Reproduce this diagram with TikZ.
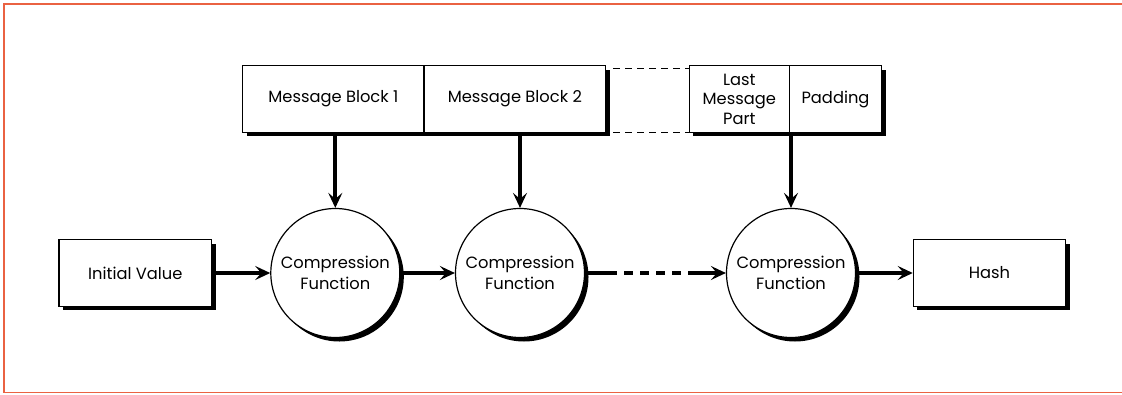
\documentclass[tikz,border=0pt]{standalone}
\usepackage{fontspec}
\setmainfont{Poppins}
\usetikzlibrary{arrows.meta,shadows,calc}

\definecolor{framered}{RGB}{234,98,66}

\begin{document}
\begin{tikzpicture}[x=1pt,y=-1pt,
  font=\fontsize{16.3}{21}\selectfont,
  boxshadow/.style={drop shadow={shadow xshift=4pt,shadow yshift=-4pt,fill=black,opacity=1}},
  block/.style={rectangle,draw,line width=1.1pt,fill=white,boxshadow,inner sep=0pt,
    minimum height=66.6pt,align=center},
  compfn/.style={circle,draw,line width=1.2pt,fill=white,boxshadow,inner sep=0pt,
    minimum size=129pt,align=center},
  flow/.style={line width=4pt},
  flowarrow/.style={flow,-{Stealth[length=15pt,width=14pt,inset=6pt]}},
  gapline/.style={line width=1pt,dash pattern=on 7pt off 5pt},
  gapflow/.style={line width=4pt,dash pattern=on 9pt off 7pt},
  frameline/.style={draw=framered,line width=1.6pt,line cap=rect}
]
\useasboundingbox (0,0) rectangle (1122,394);

% message blocks
\node[block,minimum width=181.3pt] (mb1) at (333.35,99) {Message Block 1};
\node[block,minimum width=181.7pt] (mb2) at (514.85,99) {Message Block 2};
\node[block,minimum width=100pt,font=\fontsize{16.3}{19.5}\selectfont] (last) at (739.3,99) {Last\\Message\\Part};
\node[block,minimum width=92.4pt]  (pad) at (835.5,99) {Padding};

% omitted blocks
\draw[gapline] ($(mb2.north east)+(7,3)$) -- ($(last.north west)+(0,3)$);
\draw[gapline] ($(mb2.south east)+(7,0)$) -- (last.south west);

% chain
\node[block,minimum width=152.7pt] (iv) at (135.35,273) {Initial Value};
\node[compfn] (c1) at (335.3,273) {Compression\\Function};
\node[compfn] (c2) at (520,273) {Compression\\Function};
\node[compfn] (c3) at (791,273) {Compression\\Function};
\node[block,minimum width=152.4pt] (hash) at (989.5,273) {Hash};

\coordinate (g1) at (617,273);
\coordinate (g2) at (688,273);

\draw[flowarrow] ($(c1 |- mb1.south)+(0,2)$) -- (c1.north);
\draw[flowarrow] ($(c2 |- mb2.south)+(0,2)$) -- (c2.north);
\draw[flowarrow] ($(c3 |- pad.south)+(0,2)$) -- (c3.north);

\draw[flowarrow] (iv.east) -- (c1.west);
\draw[flowarrow] (c1.east) -- (c2.west);
\draw[flow] (c2.east) -- (g1);
\draw[gapflow] ($(g1)+(7,0)$) -- ($(g2)-(7,0)$);
\draw[flowarrow] (g2) -- (c3.west);
\draw[flowarrow] (c3.east) -- (hash.west);

% page frame (open to the right)
\draw[frameline] (3.8,3.8) -- (1124,3.8);
\draw[frameline] (3.8,3.8) -- (3.8,392.5);
\draw[frameline] (3.8,392.5) -- (1124,392.5);
\end{tikzpicture}
\end{document}
